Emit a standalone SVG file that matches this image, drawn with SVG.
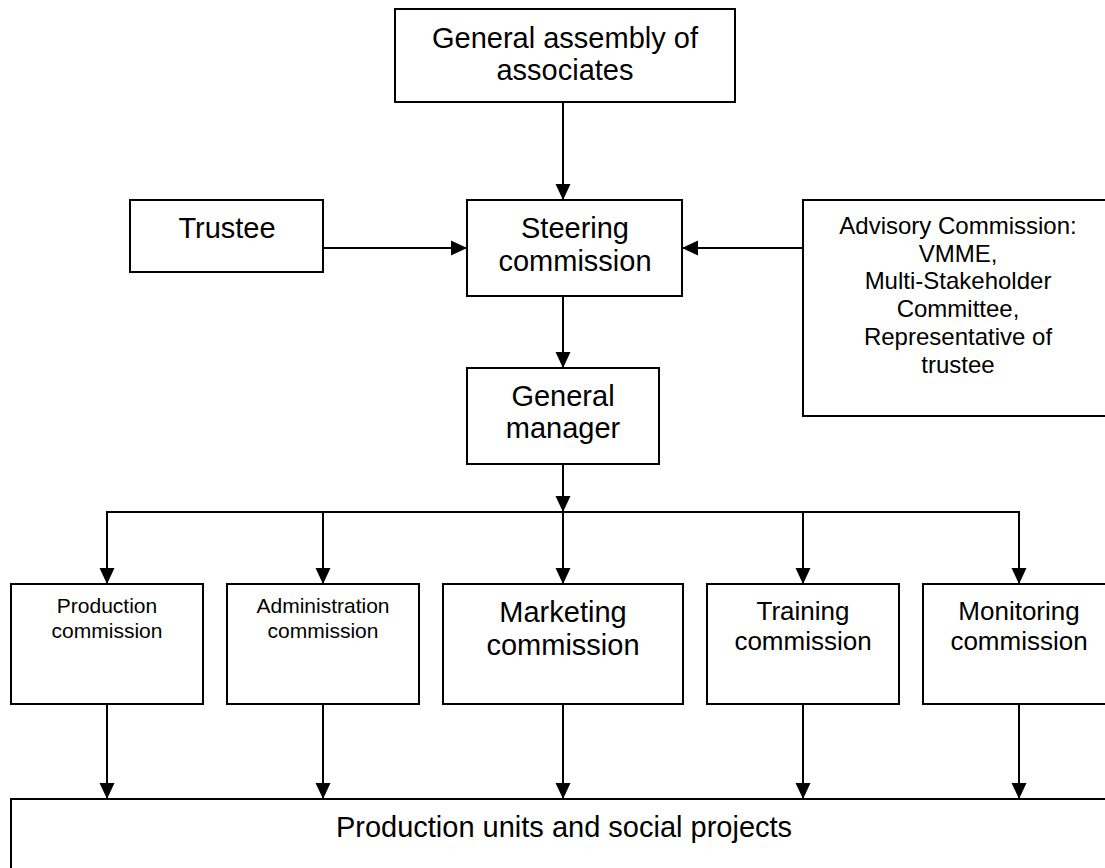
<svg xmlns="http://www.w3.org/2000/svg" width="1105" height="868" viewBox="0 0 1105 868">
<style>
.box{fill:#fff;stroke:#000;stroke-width:2}
.t{font-family:"Liberation Sans",Arial,sans-serif;fill:#000;text-anchor:middle}
.l{font-size:29px}
.m{font-size:26px}
.a{font-size:24px}
.s{font-size:21px}
.c{stroke:#000;stroke-width:2;fill:none}
</style>
<defs>
<marker id="ah" markerUnits="userSpaceOnUse" markerWidth="16" markerHeight="16" refX="16" refY="8" orient="auto">
<path d="M0,0.5 L16,8 L0,15.5 z" fill="#000"/>
</marker>
</defs>
<rect width="1105" height="868" fill="#fff"/>
<g id="connectors">
<line class="c" x1="563" y1="102" x2="563" y2="200" marker-end="url(#ah)"/>
<line class="c" x1="323" y1="248" x2="467" y2="248" marker-end="url(#ah)"/>
<line class="c" x1="803" y1="248" x2="682" y2="248" marker-end="url(#ah)"/>
<line class="c" x1="563" y1="296" x2="563" y2="368" marker-end="url(#ah)"/>
<line class="c" x1="563" y1="464" x2="563" y2="512" marker-end="url(#ah)"/>
<line class="c" x1="106" y1="512" x2="1020" y2="512"/>
<line class="c" x1="107" y1="511" x2="107" y2="584" marker-end="url(#ah)"/>
<line class="c" x1="323" y1="512" x2="323" y2="584" marker-end="url(#ah)"/>
<line class="c" x1="563" y1="512" x2="563" y2="584" marker-end="url(#ah)"/>
<line class="c" x1="803" y1="512" x2="803" y2="584" marker-end="url(#ah)"/>
<line class="c" x1="1019" y1="511" x2="1019" y2="584" marker-end="url(#ah)"/>
<line class="c" x1="107" y1="704" x2="107" y2="799" marker-end="url(#ah)"/>
<line class="c" x1="323" y1="704" x2="323" y2="799" marker-end="url(#ah)"/>
<line class="c" x1="563" y1="704" x2="563" y2="799" marker-end="url(#ah)"/>
<line class="c" x1="803" y1="704" x2="803" y2="799" marker-end="url(#ah)"/>
<line class="c" x1="1019" y1="704" x2="1019" y2="799" marker-end="url(#ah)"/>
</g>
<g id="general-assembly">
<rect class="box" x="395" y="9" width="340" height="93"/>
<text class="t l" x="565" y="48">General assembly of</text>
<text class="t l" x="565" y="80">associates</text>
</g>
<g id="trustee">
<rect class="box" x="130" y="200" width="193" height="72"/>
<text class="t l" x="227" y="238">Trustee</text>
</g>
<g id="steering">
<rect class="box" x="467" y="200" width="215" height="96"/>
<text class="t l" x="575" y="238">Steering</text>
<text class="t l" x="575" y="271">commission</text>
</g>
<g id="advisory">
<rect class="box" x="803" y="200" width="320" height="216"/>
<text class="t a" x="958" y="234">Advisory Commission:</text>
<text class="t a" x="958" y="261.7">VMME,</text>
<text class="t a" x="958" y="289.4">Multi-Stakeholder</text>
<text class="t a" x="958" y="317.1">Committee,</text>
<text class="t a" x="958" y="344.8">Representative of</text>
<text class="t a" x="958" y="372.5">trustee</text>
</g>
<g id="general-manager">
<rect class="box" x="467" y="368" width="192" height="96"/>
<text class="t l" x="563" y="406">General</text>
<text class="t l" x="563" y="438">manager</text>
</g>
<g id="production-commission">
<rect class="box" x="11" y="584" width="192" height="120"/>
<text class="t s" x="107" y="613">Production</text>
<text class="t s" x="107" y="638">commission</text>
</g>
<g id="administration-commission">
<rect class="box" x="227" y="584" width="192" height="120"/>
<text class="t s" x="323" y="613">Administration</text>
<text class="t s" x="323" y="638">commission</text>
</g>
<g id="marketing-commission">
<rect class="box" x="443" y="584" width="240" height="120"/>
<text class="t l" x="563" y="622">Marketing</text>
<text class="t l" x="563" y="655">commission</text>
</g>
<g id="training-commission">
<rect class="box" x="707" y="584" width="192" height="120"/>
<text class="t m" x="803" y="620">Training</text>
<text class="t m" x="803" y="650">commission</text>
</g>
<g id="monitoring-commission">
<rect class="box" x="923" y="584" width="200" height="120"/>
<text class="t m" x="1019" y="620">Monitoring</text>
<text class="t m" x="1019" y="650">commission</text>
</g>
<g id="production-units">
<rect class="box" x="11" y="799" width="1110" height="100"/>
<text class="t l" x="564" y="837">Production units and social projects</text>
</g>
</svg>
